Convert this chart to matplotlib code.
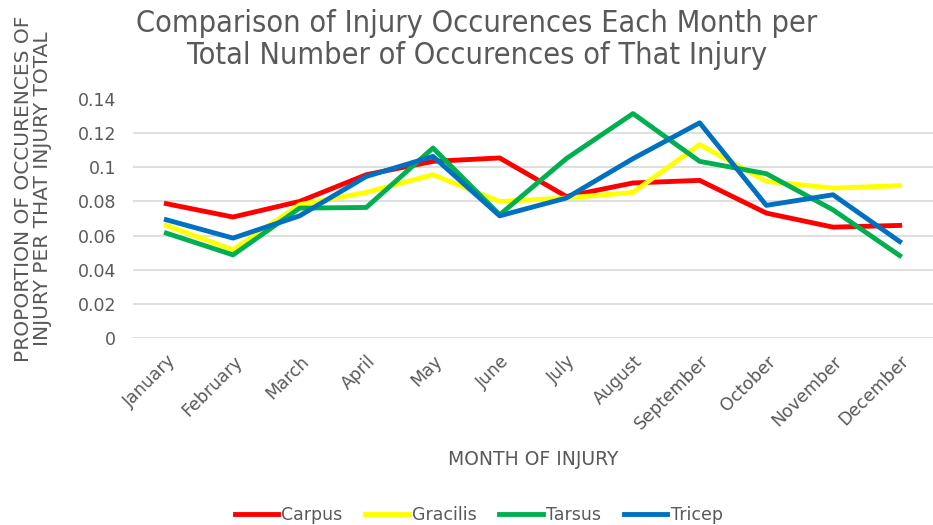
import matplotlib
matplotlib.use("Agg")
import matplotlib.pyplot as plt

# data
months = ["January", "February", "March", "April", "May", "June", "July",
          "August", "September", "October", "November", "December"]
carpus = [0.0786, 0.0708, 0.0799, 0.0955, 0.1033, 0.1053, 0.0828, 0.0907, 0.0922, 0.0731, 0.0649, 0.0659]
gracilis = [0.0659, 0.0517, 0.0780, 0.0852, 0.0955, 0.0799, 0.0819, 0.0852, 0.1131, 0.0916, 0.0877, 0.0891]
tarsus = [0.0614, 0.0487, 0.0760, 0.0764, 0.1111, 0.0721, 0.1049, 0.1312, 0.1033, 0.0961, 0.0750, 0.0483]
tricep = [0.0692, 0.0585, 0.0715, 0.0945, 0.1062, 0.0715, 0.0819, 0.1049, 0.1258, 0.0776, 0.0838, 0.0565]
yticks = [0, 0.02, 0.04, 0.06, 0.08, 0.1, 0.12, 0.14]
ytick_labels = ["0", "0.02", "0.04", "0.06", "0.08", "0.1", "0.12", "0.14"]

grey = "#595959"
plt.rcParams["font.family"] = ["DejaVu Sans"]

fig = plt.figure(figsize=(9.33, 5.25), dpi=100)
ax = fig.add_axes([133 / 933, 1 - 338.3 / 525, 800 / 933, (338.3 - 98.5) / 525])

x = list(range(len(months)))
ax.plot(x, carpus, color="#ff0000", lw=3.5, label="Carpus", solid_joinstyle="round")
ax.plot(x, gracilis, color="#ffff00", lw=3.5, label="Gracilis", solid_joinstyle="round")
ax.plot(x, tarsus, color="#00b050", lw=3.5, label="Tarsus", solid_joinstyle="round")
ax.plot(x, tricep, color="#0070c0", lw=3.5, label="Tricep", solid_joinstyle="round")

ax.set_xlim(-0.5, 11.5)
ax.set_ylim(0, 0.14)
ax.set_yticks(yticks)
ax.set_yticklabels(ytick_labels)
ax.set_xticks(x)
ax.set_xticklabels(months, rotation=45, ha="right", rotation_mode="anchor")
ax.tick_params(axis="both", length=0, colors=grey, labelsize=12.5)
ax.tick_params(axis="y", pad=12)
ax.tick_params(axis="x", pad=10)
ax.grid(axis="y", color="#d9d9d9", lw=1.2)
ax.set_axisbelow(True)
for s in ax.spines.values():
    s.set_visible(False)

ax.set_xlabel("MONTH OF INJURY", color=grey, fontsize=13.5, labelpad=12)
fig.text(0.035, 0.64, "PROPORTION OF OCCURENCES OF\nINJURY PER THAT INJURY TOTAL",
         rotation=90, ha="center", va="center", color=grey, fontsize=14.5,
         linespacing=1.0)
fig.text(0.511, 0.925, "Comparison of Injury Occurences Each Month per\nTotal Number of Occurences of That Injury",
         ha="center", va="center", color=grey, fontsize=22, fontstretch="condensed",
         linespacing=1.12)

fig.legend(loc="center", bbox_to_anchor=(0.513, 0.019), ncol=4, frameon=False,
           fontsize=12.5, labelcolor=grey, handlelength=2.5, handletextpad=0.2,
           columnspacing=1.3)

fig.savefig("out.png", dpi=100)
